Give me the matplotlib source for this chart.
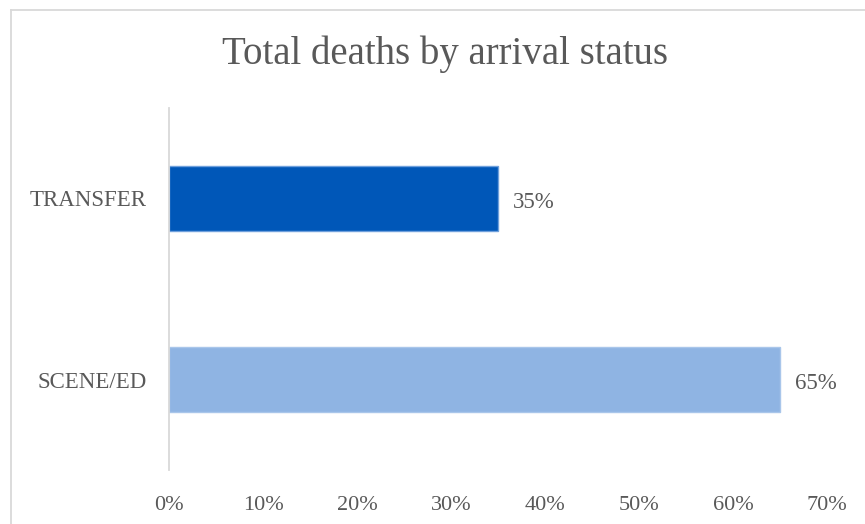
import matplotlib
matplotlib.use("Agg")
import matplotlib.pyplot as plt
from matplotlib.lines import Line2D

categories = ["SCENE/ED", "TRANSFER"]
values = [65, 35]
xticks = [0, 10, 20, 30, 40, 50, 60, 70]
xtick_labels = ["0%", "10%", "20%", "30%", "40%", "50%", "60%", "70%"]
title = "Total deaths by arrival status"

bar_colors = ["#8FB4E3", "#0057B8"]
edge_colors = ["#A9C6EA", "#6FA0DC"]
text_color = "#595959"
font = "Liberation Serif"

W, H = 865, 524
fig = plt.figure(figsize=(W / 100, H / 100), dpi=100)
ax = fig.add_axes([169 / W, 1 - 470 / H, (827 - 169) / W, (470 - 108) / H])

ypos = list(range(len(categories)))
ax.barh(ypos, values, height=0.36, color=bar_colors, edgecolor=edge_colors, linewidth=1.0)

for y, v in zip(ypos, values):
    ax.annotate(f"{v}%", xy=(v, y), xytext=(11, -3), textcoords="offset points",
                ha="left", va="center", fontsize=16.5, color=text_color, family=font)

ax.set_xlim(0, 70)
ax.set_ylim(-0.5, 1.5)
ax.set_xticks(xticks)
ax.set_xticklabels(xtick_labels, fontsize=16, color=text_color, family=font)
ax.set_yticks(ypos)
ax.set_yticklabels(categories, fontsize=16.5, color=text_color, family=font)
ax.tick_params(axis="x", length=0, pad=19)
ax.tick_params(axis="y", length=0, pad=16)
for s in ["top", "right", "bottom"]:
    ax.spines[s].set_visible(False)
ax.spines["left"].set_color("#D9D9D9")
ax.spines["left"].set_linewidth(1.3)

fig.text(0.5 * (217 + 672) / W, 1 - 54 / H, title, ha="center", va="center",
         fontsize=28, color=text_color, family=font)

# chart border (left and top visible)
fig.add_artist(Line2D([10.5 / W, 10.5 / W], [0, 1 - 9.5 / H], transform=fig.transFigure,
                      color="#D9D9D9", linewidth=1.3))
fig.add_artist(Line2D([10.5 / W, 1], [1 - 9.5 / H, 1 - 9.5 / H], transform=fig.transFigure,
                      color="#D9D9D9", linewidth=1.3))

fig.savefig("out.png", dpi=100)
